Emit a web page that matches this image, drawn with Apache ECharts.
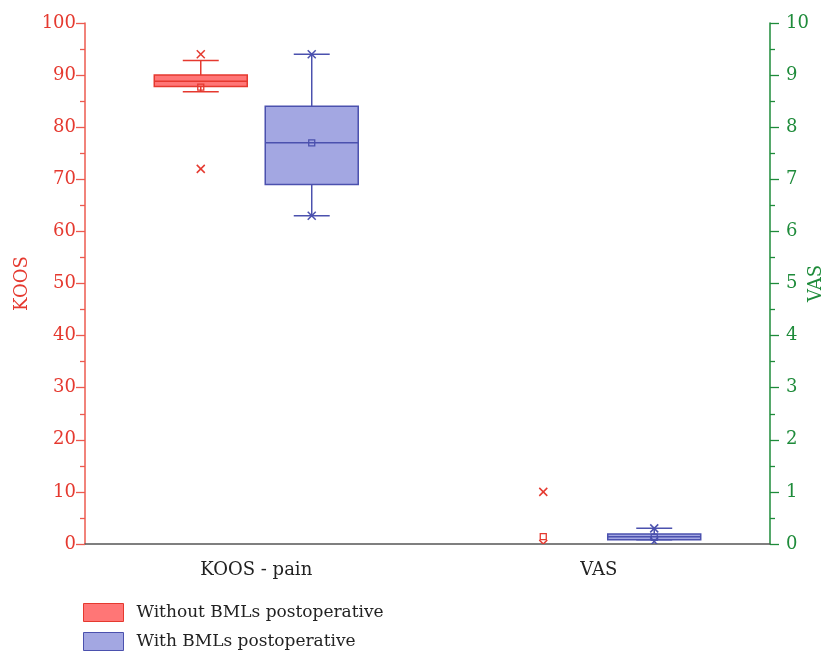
<!DOCTYPE html>
<html>
<head>
<meta charset="utf-8">
<script src="https://cdn.jsdelivr.net/npm/echarts@6/dist/echarts.min.js"></script>
<style>html,body{margin:0;padding:0;background:#fff}#c{width:827px;height:654px}</style>
</head>
<body>
<div id="c"></div>
<script>
// ---- data ----
const categories = ['KOOS - pain', 'VAS'];
const seriesNames = ['Without BMLs postoperative', 'With BMLs postoperative'];
// [lower whisker, Q1, median, Q3, upper whisker]
const withoutBox = [[86.8, 87.8, 88.8, 90.0, 92.8], [0, 0, 0, 0, 0]];
const withoutMean = [87.7, 0.14];
const withoutMin = [72, 0];
const withoutMax = [94, 1.0];
const withBox = [[63, 69, 77, 84, 94], [0.08, 0.08, 0.14, 0.19, 0.3]];
const withMean = [77, 0.13];
const withMin = [63, 0.05];
const withMax = [94, 0.3];
const koosTicks = [0, 100, 10];
const vasTicks = [0, 10, 1];

const FONT = 'DejaVu Serif';
const RED = '#E5392F', RED_FILL = '#FF7676';
const BLUE = '#4B51AE', BLUE_FILL = '#A3A7E2';
const GREEN = '#1E8B3A';

function makeItem(catIdx, box, mean, mn, mx) {
  return [catIdx].concat(box, [mean, mn, mx]);
}

function makeRender(offsetFrac, stroke, fill) {
  return function (params, api) {
    const cat = api.value(0);
    const band = api.size([1, 0])[0];
    const cx = api.coord([cat, 0])[0] + offsetFrac * band;
    const w = 0.2715 * band;
    const cap = 0.105 * band;
    const y = i => api.coord([cat, api.value(i)])[1];
    const lo = y(1), q1 = y(2), med = y(3), q3 = y(4), hi = y(5);
    const mean = y(6), mn = y(7), mx = y(8);
    const ls = {stroke: stroke, lineWidth: 1.5, fill: null};
    const children = [];
    const hasBox = Math.abs(q1 - q3) > 0.01 || Math.abs(hi - lo) > 0.01;
    if (hasBox) {
      children.push({type: 'line', shape: {x1: cx, y1: hi, x2: cx, y2: q3}, style: ls});
      children.push({type: 'line', shape: {x1: cx, y1: q1, x2: cx, y2: lo}, style: ls});
      children.push({type: 'line', shape: {x1: cx - cap / 2, y1: hi, x2: cx + cap / 2, y2: hi}, style: ls});
      children.push({type: 'line', shape: {x1: cx - cap / 2, y1: lo, x2: cx + cap / 2, y2: lo}, style: ls});
      children.push({type: 'rect', shape: {x: cx - w / 2, y: q3, width: w, height: q1 - q3},
        style: {fill: fill, stroke: stroke, lineWidth: 1.5}});
      children.push({type: 'line', shape: {x1: cx - w / 2, y1: med, x2: cx + w / 2, y2: med}, style: ls});
    }
    children.push({type: 'rect', shape: {x: cx - 3, y: mean - 3, width: 6, height: 6},
      style: {fill: null, stroke: stroke, lineWidth: 1.3}});
    [mn, mx].forEach(function (py) {
      const s = 4;
      children.push({type: 'line', shape: {x1: cx - s, y1: py - s, x2: cx + s, y2: py + s}, style: {stroke: stroke, lineWidth: 1.5}});
      children.push({type: 'line', shape: {x1: cx - s, y1: py + s, x2: cx + s, y2: py - s}, style: {stroke: stroke, lineWidth: 1.5}});
    });
    return {type: 'group', children: children};
  };
}

function series(name, yIdx, catIdx, box, mean, mn, mx, off, stroke, fill) {
  return {
    type: 'custom', name: name, yAxisIndex: yIdx, clip: true,
    itemStyle: {color: fill, borderColor: stroke, borderWidth: 1},
    renderItem: makeRender(off, stroke, fill),
    encode: {x: 0, y: [1, 2, 3, 4, 5]},
    data: [makeItem(catIdx, box, mean, mn, mx)]
  };
}

const OFF = 0.162;
const chart = echarts.init(document.getElementById('c'));
chart.setOption({
  animation: false,
  grid: {left: 85, right: 57, top: 23, bottom: 110, outerBoundsMode: 'none', containLabel: false},
  textStyle: {fontFamily: FONT},
  legend: {
    orient: 'vertical', left: 83, top: 603, itemWidth: 40, itemHeight: 18, itemGap: 10, padding: 0,
    icon: 'rect', selectedMode: false,
    textStyle: {fontFamily: FONT, fontSize: 17, color: '#222', padding: [0, 0, 0, 8]},
    data: [
      {name: seriesNames[0], itemStyle: {color: RED_FILL, borderColor: RED, borderWidth: 1}},
      {name: seriesNames[1], itemStyle: {color: BLUE_FILL, borderColor: BLUE, borderWidth: 1}}
    ]
  },
  xAxis: {
    type: 'category', data: categories, boundaryGap: true,
    axisLine: {lineStyle: {color: '#555', width: 1.5}},
    axisTick: {alignWithLabel: true, length: 9, lineStyle: {color: '#333', width: 1.3}},
    axisLabel: {color: '#222', fontSize: 18, fontFamily: FONT, margin: 17},
    splitLine: {show: false}
  },
  yAxis: [
    {
      type: 'value', min: koosTicks[0], max: koosTicks[1], interval: koosTicks[2], position: 'left',
      name: 'KOOS', nameLocation: 'middle', nameGap: 54, nameRotate: 90, nameMoveOverlap: false,
      nameTextStyle: {color: RED, fontSize: 18, fontFamily: FONT},
      axisLine: {show: true, lineStyle: {color: '#EC5A4F', width: 1.5}},
      axisTick: {show: true, length: 9, lineStyle: {color: '#EC5A4F', width: 1.3}},
      minorTick: {show: true, splitNumber: 2, length: 5, lineStyle: {color: '#EC5A4F', width: 1.3}},
      axisLabel: {color: RED, fontSize: 18, fontFamily: FONT, margin: 9},
      splitLine: {show: false}
    },
    {
      type: 'value', min: vasTicks[0], max: vasTicks[1], interval: vasTicks[2], position: 'right',
      name: 'VAS', nameLocation: 'middle', nameGap: 37, nameRotate: 90, nameMoveOverlap: false,
      nameTextStyle: {color: GREEN, fontSize: 18, fontFamily: FONT},
      axisLine: {show: true, lineStyle: {color: GREEN, width: 1.5}},
      axisTick: {show: true, length: 9, lineStyle: {color: GREEN, width: 1.3}},
      minorTick: {show: true, splitNumber: 2, length: 5, lineStyle: {color: GREEN, width: 1.3}},
      axisLabel: {color: GREEN, fontSize: 18, fontFamily: FONT, margin: 16},
      splitLine: {show: false}
    }
  ],
  series: [
    series(seriesNames[0], 0, 0, withoutBox[0], withoutMean[0], withoutMin[0], withoutMax[0], -OFF, RED, RED_FILL),
    series(seriesNames[1], 0, 0, withBox[0], withMean[0], withMin[0], withMax[0], OFF, BLUE, BLUE_FILL),
    series(seriesNames[0], 1, 1, withoutBox[1], withoutMean[1], withoutMin[1], withoutMax[1], -OFF, RED, RED_FILL),
    series(seriesNames[1], 1, 1, withBox[1], withMean[1], withMin[1], withMax[1], OFF, BLUE, BLUE_FILL)
  ]
});
</script>
</body>
</html>
